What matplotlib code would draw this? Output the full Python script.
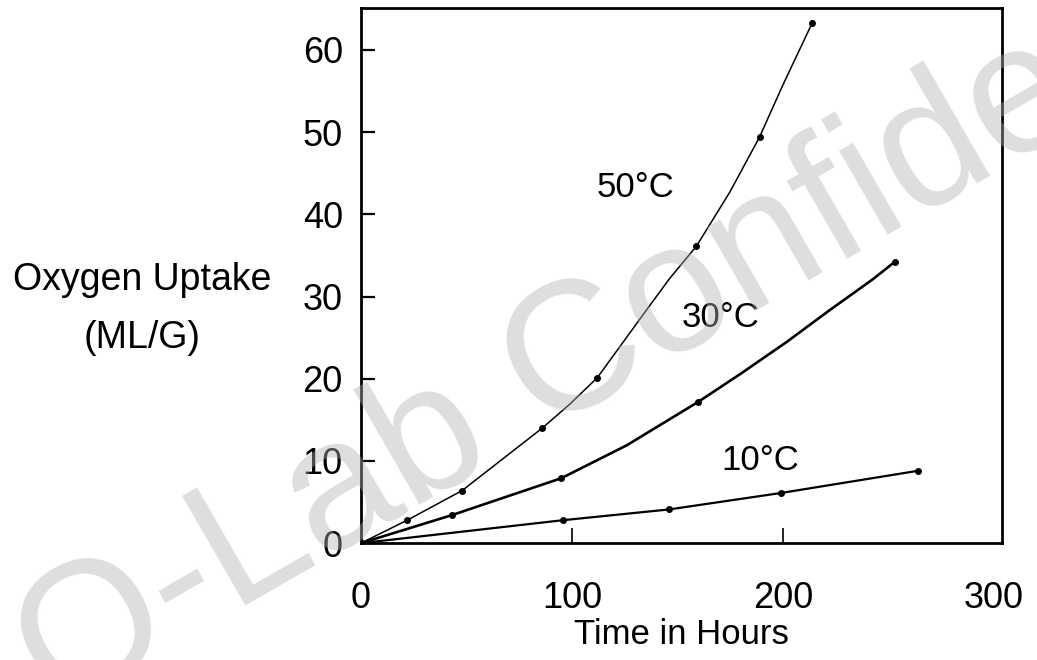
import matplotlib
matplotlib.use("Agg")
import matplotlib.pyplot as plt

plt.rcParams['font.family'] = ['Liberation Sans', 'DejaVu Sans']

# -----------------------------
# Data
# -----------------------------
# measured points (dots)
hours_50 = [0, 22, 48, 86, 112, 159, 189, 214]
uptake_50 = [0, 2.8, 6.4, 14.0, 20.1, 36.1, 49.4, 63.3]

hours_30 = [0, 43, 95, 160, 253]
uptake_30 = [0, 3.4, 7.9, 17.2, 34.2]

hours_10 = [0, 96, 146, 199, 264]
uptake_10 = [0, 2.8, 4.1, 6.1, 8.8]

# drawn curves (includes the dots)
curve_h_50 = [0, 22, 48, 86, 99, 112, 135.5, 146.4, 159, 174.9, 189, 200, 214]
curve_u_50 = [0, 2.8, 6.4, 14.0, 16.9, 20.1, 28.4, 32.2, 36.1, 42.7, 49.4, 55.7, 63.3]

curve_h_30 = [0, 43, 95, 126, 160, 180, 202, 222, 242.7, 253]
curve_u_30 = [0, 3.4, 7.9, 11.9, 17.2, 20.6, 24.5, 28.3, 32.1, 34.2]

curve_h_10 = hours_10
curve_u_10 = uptake_10

x_ticks = [0, 100, 200, 300]
y_ticks = [0, 10, 20, 30, 40, 50, 60]

# -----------------------------
# Figure
# -----------------------------
fig = plt.figure(figsize=(10.37, 6.60), dpi=100)
ax = fig.add_axes([0.348, 0.177, 0.618, 0.811])

ax.plot(curve_h_50, curve_u_50, color='black', lw=1.1)
ax.plot(curve_h_30, curve_u_30, color='black', lw=1.9)
ax.plot(curve_h_10, curve_u_10, color='black', lw=1.6)

ax.plot(hours_50, uptake_50, 'o', color='black', ms=4)
ax.plot(hours_30, uptake_30, 'o', color='black', ms=4)
ax.plot(hours_10, uptake_10, 'o', color='black', ms=4)

ax.set_xlim(0, 303.8)
ax.set_ylim(0, 65.1)
ax.set_xticks(x_ticks)
ax.set_yticks(y_ticks)

ax.tick_params(axis='y', direction='in', length=10, width=1.6,
               labelsize=26, pad=13)
ax.tick_params(axis='x', direction='in', length=11, width=1.2,
               labelsize=26, pad=27)
# no tick marks on the corners
for t in (ax.xaxis.get_major_ticks()[0], ax.xaxis.get_major_ticks()[-1]):
    t.tick1line.set_visible(False)

for s in ax.spines.values():
    s.set_linewidth(2.0)

ax.set_xlabel("Time in Hours", fontsize=25, labelpad=2)

# curve labels
ax.text(130.3, 43.2, "50°C", fontsize=25, ha='center', va='center')
ax.text(170.6, 27.4, "30°C", fontsize=25, ha='center', va='center')
ax.text(189.1, 10.1, "10°C", fontsize=25, ha='center', va='center')

# y label, horizontal, two lines
fig.text(142 / 1037, 1 - 290 / 660, "Oxygen Uptake", fontsize=27,
         ha='center', va='baseline')
fig.text(142 / 1037, 1 - 348 / 660, "(ML/G)", fontsize=27,
         ha='center', va='baseline')

# watermark
fig.text(57 / 1037, 1 - 715 / 660, "Q-Lab Confidential", fontsize=132,
         color='#b0b0b0', alpha=0.42, rotation=30, rotation_mode='anchor',
         ha='left', va='baseline', zorder=10)

fig.savefig("out.png", dpi=100)
